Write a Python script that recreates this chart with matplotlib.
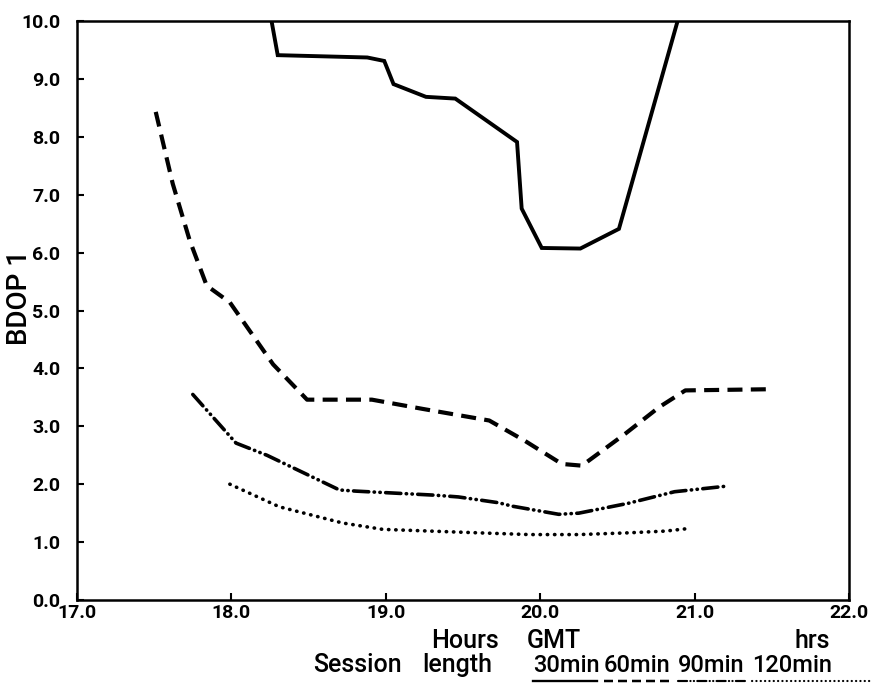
import matplotlib
matplotlib.use("Agg")
import matplotlib.pyplot as plt
from matplotlib.lines import Line2D

# session length curves (hours GMT, BDOP 1)
h_30 = [18.26, 18.30, 18.88, 18.99, 19.05, 19.26, 19.45, 19.85, 19.88, 20.01, 20.26, 20.51, 20.89]
v_30 = [10.0, 9.41, 9.37, 9.31, 8.91, 8.69, 8.66, 7.91, 6.76, 6.08, 6.07, 6.41, 10.0]

h_60 = [17.51, 17.62, 17.73, 17.84, 17.99, 18.27, 18.49, 18.91, 19.24, 19.67, 19.90, 20.14, 20.27, 20.55, 20.77, 20.94, 21.48]
v_60 = [8.43, 7.19, 6.21, 5.43, 5.14, 4.07, 3.46, 3.46, 3.30, 3.10, 2.75, 2.35, 2.32, 2.87, 3.33, 3.62, 3.64]

h_90 = [17.75, 18.03, 18.23, 18.70, 18.81, 19.32, 19.47, 19.73, 19.82, 20.12, 20.25, 20.57, 20.87, 21.22]
v_90 = [3.55, 2.71, 2.50, 1.90, 1.88, 1.81, 1.78, 1.68, 1.62, 1.48, 1.50, 1.67, 1.87, 1.97]

h_120 = [17.99, 18.31, 18.72, 18.98, 19.60, 19.93, 20.25, 20.57, 20.81, 20.98]
v_120 = [2.00, 1.61, 1.33, 1.22, 1.16, 1.13, 1.13, 1.16, 1.19, 1.24]

x_ticks = [17.0, 18.0, 19.0, 20.0, 21.0, 22.0]
y_ticks = [0.0, 1.0, 2.0, 3.0, 4.0, 5.0, 6.0, 7.0, 8.0, 9.0, 10.0]
session_labels = ["30min", "60min", "90min", "120min"]

styles = [
    dict(linestyle="-", linewidth=2.8),
    dict(linestyle=(0, (3.6, 2.0)), linewidth=3.0),
    dict(linestyle=(0, (4.2, 1.5, 0.1, 1.5, 0.1, 1.5)), linewidth=2.6, dash_capstyle="round"),
    dict(linestyle=(0, (0.1, 1.9)), linewidth=2.6, dash_capstyle="round"),
]

fig = plt.figure(figsize=(8.74, 6.84), dpi=100)
W, H = 874, 684
ax = fig.add_axes([77 / W, 1 - 600 / H, 772 / W, 579 / H])

for (hx, vy), st in zip([(h_30, v_30), (h_60, v_60), (h_90, v_90), (h_120, v_120)], styles):
    ax.plot(hx, vy, color="black", solid_joinstyle="miter", **st)

ax.set_xlim(17.0, 22.0)
ax.set_ylim(0.0, 10.0)
ax.set_xticks(x_ticks)
ax.set_yticks(y_ticks)
ax.set_xticklabels([f"{t:.1f}" for t in x_ticks])
ax.set_yticklabels([f"{t:.1f}" for t in y_ticks])
ax.tick_params(direction="in", length=5, width=1.5, top=False, right=False)
ax.tick_params(axis="y", pad=12)
ax.tick_params(axis="x", pad=3)
for lab in ax.get_xticklabels() + ax.get_yticklabels():
    lab.set_fontfamily("Roboto")
    lab.set_fontweight("bold")
    lab.set_fontsize(14)
for sp in ax.spines.values():
    sp.set_linewidth(1.8)

# y label placed by hand so it stays inside the canvas
fig.text(20 / W, 1 - 298 / H, "BDOP 1", rotation=90, ha="center", va="center",
         fontfamily="Roboto", fontweight="medium", fontsize=20)

txt = dict(fontfamily="Roboto", fontweight="medium", fontsize=18, color="black", va="baseline")
fig.text(431 / W, 1 - 648 / H, "Hours", **txt)
fig.text(527 / W, 1 - 648 / H, "GMT", **txt)
fig.text(794 / W, 1 - 648 / H, "hrs", **txt)

fig.text(313 / W, 1 - 672 / H, "Session", **txt)
fig.text(422 / W, 1 - 672 / H, "length", **txt)
lab_x = [533, 604, 678, 752]
lab_w = [64, 66, 68, 118]
for lx, lw, s, st in zip(lab_x, lab_w, session_labels, styles):
    fig.text(lx / W, 1 - 672 / H, s, fontfamily="Roboto", fontweight="medium", fontsize=17, va="baseline")
    fig.add_artist(Line2D([lx / W, (lx + lw) / W], [1 - 681 / H, 1 - 681 / H],
                          color="black", transform=fig.transFigure,
                          **dict(st, linewidth=st["linewidth"] * 0.6)))

fig.savefig("out.png", dpi=100)
